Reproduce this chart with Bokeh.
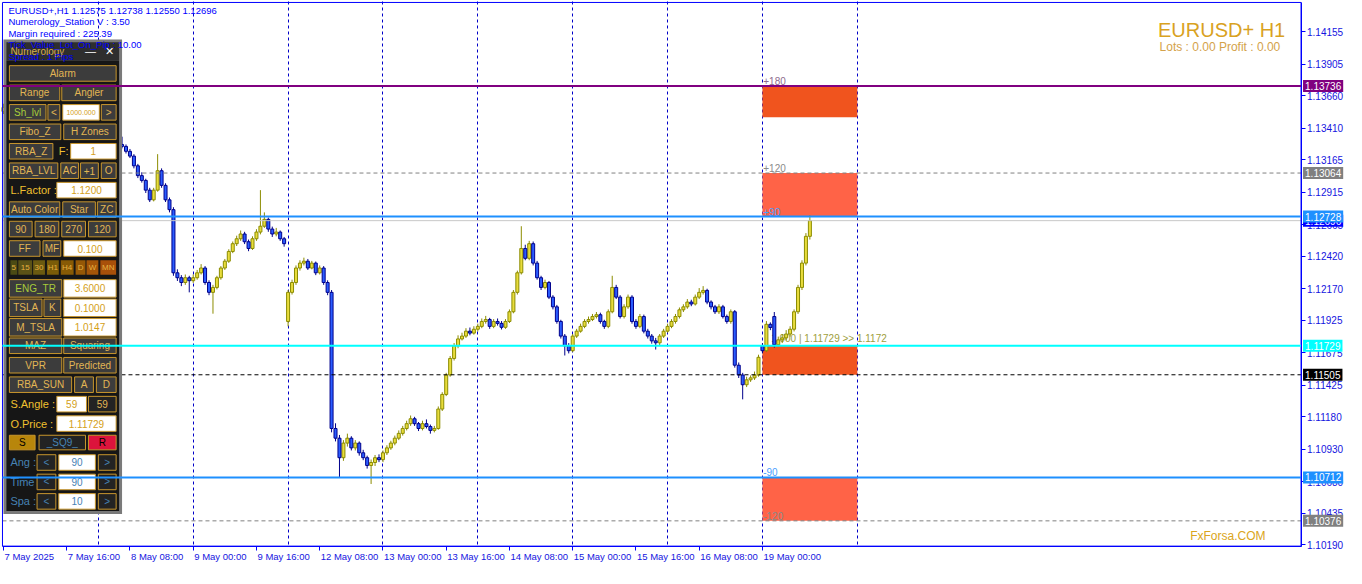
from bokeh.plotting import figure
from bokeh.models import Label, BoxAnnotation, FixedTicker, Range1d, PrintfTickFormatter, ColumnDataSource
from bokeh.embed import file_html
from bokeh.resources import INLINE

# ---------------- data ----------------
bar_open = [
 1.13540, 1.13571, 1.13556, 1.13586, 1.13563, 1.13533, 1.13548, 1.13525, 1.13556, 1.13578,
 1.13608, 1.13631, 1.13601, 1.13571, 1.13540, 1.13510, 1.13556, 1.13586, 1.13533, 1.13495,
 1.13383, 1.13270, 1.13330, 1.13285, 1.13307, 1.13270, 1.13292, 1.13255, 1.13277, 1.13300,
 1.13285, 1.13270, 1.13232, 1.13195, 1.13120, 1.13044, 1.13007, 1.12932, 1.12857, 1.12932,
 1.13082, 1.12969, 1.12857, 1.12781, 1.12293, 1.12255, 1.12218, 1.12255, 1.12232, 1.12255,
 1.12293, 1.12330, 1.12218, 1.12142, 1.12180, 1.12255, 1.12330, 1.12383, 1.12458, 1.12518,
 1.12556, 1.12593, 1.12533, 1.12481, 1.12556, 1.12608, 1.12653, 1.12706, 1.12631, 1.12593,
 1.12608, 1.12556, 1.11917, 1.12142, 1.12218, 1.12330, 1.12368, 1.12383, 1.12330, 1.12368,
 1.12293, 1.12330, 1.12218, 1.12142, 1.11090, 1.11015, 1.10864, 1.10977, 1.11015, 1.10940,
 1.10977, 1.10902, 1.10864, 1.10804, 1.10827, 1.10864, 1.10849, 1.10902, 1.10940, 1.10977,
 1.11015, 1.11052, 1.11090, 1.11127, 1.11165, 1.11127, 1.11090, 1.11127, 1.11105, 1.11075,
 1.11090, 1.11240, 1.11353, 1.11503, 1.11631, 1.11729, 1.11782, 1.11804, 1.11842, 1.11827,
 1.11857, 1.11879, 1.11917, 1.11932, 1.11879, 1.11917, 1.11902, 1.11872, 1.11917, 1.11992,
 1.12142, 1.12293, 1.12481, 1.12405, 1.12518, 1.12368, 1.12255, 1.12180, 1.12218, 1.12105,
 1.12030, 1.11917, 1.11804, 1.11729, 1.11691, 1.11804, 1.11842, 1.11879, 1.11917, 1.11932,
 1.11955, 1.11969, 1.11917, 1.11879, 1.11992, 1.12180, 1.12105, 1.11955, 1.12030, 1.12105,
 1.11917, 1.11879, 1.11955, 1.11842, 1.11804, 1.11767, 1.11752, 1.11804, 1.11842, 1.11879,
 1.11917, 1.11955, 1.12007, 1.12030, 1.12067, 1.12052, 1.12105, 1.12142, 1.12157, 1.12067,
 1.12030, 1.11992, 1.12030, 1.11955, 1.11917, 1.11992, 1.11579, 1.11503, 1.11428, 1.11466,
 1.11481, 1.11503, 1.11729, 1.11691, 1.11895, 1.11955, 1.11737, 1.11775, 1.11790, 1.11820,
 1.11857, 1.11992, 1.12180, 1.12368, 1.12575]

bar_high = [
 1.13600, 1.13590, 1.13610, 1.13600, 1.13575, 1.13565, 1.13560, 1.13570, 1.13600, 1.13630,
 1.13660, 1.13650, 1.13615, 1.13585, 1.13555, 1.13575, 1.13605, 1.13600, 1.13560, 1.13520,
 1.13420, 1.13360, 1.13345, 1.13330, 1.13320, 1.13310, 1.13305, 1.13295, 1.13320, 1.13335,
 1.13345, 1.13285, 1.13250, 1.13210, 1.13135, 1.13070, 1.13020, 1.12950, 1.12950, 1.13210,
 1.13100, 1.12985, 1.12875, 1.12800, 1.12320, 1.12275, 1.12280, 1.12270, 1.12280, 1.12315,
 1.12360, 1.12345, 1.12235, 1.12200, 1.12270, 1.12345, 1.12400, 1.12475, 1.12535, 1.12580,
 1.12620, 1.12610, 1.12550, 1.12575, 1.12630, 1.12932, 1.12760, 1.12720, 1.12650, 1.12640,
 1.12620, 1.12570, 1.12160, 1.12240, 1.12350, 1.12390, 1.12410, 1.12400, 1.12385, 1.12380,
 1.12350, 1.12345, 1.12235, 1.12160, 1.11130, 1.11040, 1.11000, 1.11050, 1.11030, 1.11000,
 1.10990, 1.10925, 1.10880, 1.10850, 1.10885, 1.10890, 1.10920, 1.10960, 1.10995, 1.11035,
 1.11075, 1.11110, 1.11150, 1.11190, 1.11180, 1.11140, 1.11150, 1.11160, 1.11120, 1.11110,
 1.11260, 1.11370, 1.11520, 1.11650, 1.11750, 1.11810, 1.11830, 1.11865, 1.11870, 1.11880,
 1.11900, 1.11940, 1.11960, 1.11945, 1.11935, 1.11940, 1.11920, 1.11935, 1.12010, 1.12160,
 1.12310, 1.12653, 1.12510, 1.12540, 1.12535, 1.12385, 1.12270, 1.12240, 1.12230, 1.12120,
 1.12045, 1.11930, 1.11820, 1.11750, 1.11820, 1.11860, 1.11900, 1.11935, 1.11955, 1.11975,
 1.11990, 1.11985, 1.11930, 1.12010, 1.12270, 1.12200, 1.12120, 1.12050, 1.12125, 1.12120,
 1.11935, 1.11975, 1.11970, 1.11860, 1.11820, 1.11790, 1.11820, 1.11860, 1.11900, 1.11935,
 1.11975, 1.12025, 1.12050, 1.12090, 1.12085, 1.12125, 1.12175, 1.12190, 1.12170, 1.12080,
 1.12045, 1.12050, 1.12045, 1.11970, 1.12010, 1.12005, 1.11600, 1.11520, 1.11490, 1.11500,
 1.11530, 1.11660, 1.11750, 1.11920, 1.11910, 1.11990, 1.11800, 1.11820, 1.11850, 1.11880,
 1.12010, 1.12200, 1.12390, 1.12600, 1.12738]

bar_low = [
 1.13520, 1.13540, 1.13545, 1.13550, 1.13515, 1.13520, 1.13510, 1.13515, 1.13545, 1.13565,
 1.13595, 1.13590, 1.13555, 1.13525, 1.13495, 1.13500, 1.13540, 1.13520, 1.13470, 1.13350,
 1.13230, 1.13250, 1.13260, 1.13270, 1.13255, 1.13260, 1.13240, 1.13245, 1.13265, 1.13270,
 1.13255, 1.13215, 1.13180, 1.13100, 1.13025, 1.12990, 1.12910, 1.12840, 1.12845, 1.12920,
 1.12950, 1.12840, 1.12760, 1.12270, 1.12230, 1.12190, 1.12200, 1.12142, 1.12215, 1.12240,
 1.12280, 1.12200, 1.12120, 1.11977, 1.12165, 1.12240, 1.12315, 1.12370, 1.12445, 1.12500,
 1.12540, 1.12515, 1.12460, 1.12470, 1.12540, 1.12590, 1.12640, 1.12610, 1.12570, 1.12575,
 1.12540, 1.12495, 1.11879, 1.12125, 1.12200, 1.12310, 1.12350, 1.12315, 1.12320, 1.12275,
 1.12280, 1.12200, 1.12120, 1.11060, 1.10990, 1.10714, 1.10840, 1.10950, 1.10920, 1.10920,
 1.10880, 1.10845, 1.10780, 1.10661, 1.10800, 1.10830, 1.10830, 1.10885, 1.10925, 1.10960,
 1.11000, 1.11035, 1.11075, 1.11110, 1.11110, 1.11070, 1.11075, 1.11090, 1.11050, 1.11060,
 1.11080, 1.11225, 1.11340, 1.11490, 1.11615, 1.11710, 1.11770, 1.11790, 1.11810, 1.11815,
 1.11840, 1.11865, 1.11900, 1.11860, 1.11865, 1.11885, 1.11855, 1.11860, 1.11905, 1.11980,
 1.12125, 1.12280, 1.12390, 1.12390, 1.12350, 1.12240, 1.12160, 1.12165, 1.12090, 1.12010,
 1.11900, 1.11785, 1.11654, 1.11670, 1.11680, 1.11790, 1.11830, 1.11865, 1.11900, 1.11920,
 1.11940, 1.11900, 1.11860, 1.11865, 1.11980, 1.12090, 1.11940, 1.11940, 1.12015, 1.11900,
 1.11860, 1.11865, 1.11825, 1.11785, 1.11745, 1.11700, 1.11735, 1.11790, 1.11830, 1.11865,
 1.11900, 1.11940, 1.11990, 1.12015, 1.12035, 1.12040, 1.12090, 1.12125, 1.12050, 1.12010,
 1.11975, 1.11975, 1.11940, 1.11900, 1.11900, 1.11560, 1.11480, 1.11315, 1.11410, 1.11450,
 1.11465, 1.11490, 1.11670, 1.11680, 1.11850, 1.11715, 1.11720, 1.11750, 1.11770, 1.11800,
 1.11840, 1.11975, 1.12160, 1.12350, 1.12550]

bar_close = [
 1.13571, 1.13556, 1.13586, 1.13563, 1.13533, 1.13548, 1.13525, 1.13556, 1.13578, 1.13608,
 1.13631, 1.13601, 1.13571, 1.13540, 1.13510, 1.13556, 1.13586, 1.13533, 1.13495, 1.13383,
 1.13270, 1.13330, 1.13285, 1.13307, 1.13270, 1.13292, 1.13255, 1.13277, 1.13300, 1.13285,
 1.13270, 1.13232, 1.13195, 1.13120, 1.13044, 1.13007, 1.12932, 1.12857, 1.12932, 1.13082,
 1.12969, 1.12857, 1.12781, 1.12293, 1.12255, 1.12218, 1.12255, 1.12232, 1.12255, 1.12293,
 1.12330, 1.12218, 1.12142, 1.12180, 1.12255, 1.12330, 1.12383, 1.12458, 1.12518, 1.12556,
 1.12593, 1.12533, 1.12481, 1.12556, 1.12608, 1.12653, 1.12706, 1.12631, 1.12593, 1.12608,
 1.12556, 1.12518, 1.12142, 1.12218, 1.12330, 1.12368, 1.12383, 1.12330, 1.12368, 1.12293,
 1.12330, 1.12218, 1.12142, 1.11090, 1.11015, 1.10864, 1.10977, 1.11015, 1.10940, 1.10977,
 1.10902, 1.10864, 1.10804, 1.10827, 1.10864, 1.10849, 1.10902, 1.10940, 1.10977, 1.11015,
 1.11052, 1.11090, 1.11127, 1.11165, 1.11127, 1.11090, 1.11127, 1.11105, 1.11075, 1.11090,
 1.11240, 1.11353, 1.11503, 1.11631, 1.11729, 1.11782, 1.11804, 1.11842, 1.11827, 1.11857,
 1.11879, 1.11917, 1.11932, 1.11879, 1.11917, 1.11902, 1.11872, 1.11917, 1.11992, 1.12142,
 1.12293, 1.12481, 1.12405, 1.12518, 1.12368, 1.12255, 1.12180, 1.12218, 1.12105, 1.12030,
 1.11917, 1.11804, 1.11729, 1.11691, 1.11804, 1.11842, 1.11879, 1.11917, 1.11932, 1.11955,
 1.11969, 1.11917, 1.11879, 1.11992, 1.12180, 1.12105, 1.11955, 1.12030, 1.12105, 1.11917,
 1.11879, 1.11955, 1.11842, 1.11804, 1.11767, 1.11752, 1.11804, 1.11842, 1.11879, 1.11917,
 1.11955, 1.12007, 1.12030, 1.12067, 1.12052, 1.12105, 1.12142, 1.12157, 1.12067, 1.12030,
 1.11992, 1.12030, 1.11955, 1.11917, 1.11992, 1.11579, 1.11503, 1.11428, 1.11466, 1.11481,
 1.11503, 1.11640, 1.11691, 1.11895, 1.11870, 1.11737, 1.11775, 1.11790, 1.11820, 1.11857,
 1.11992, 1.12180, 1.12368, 1.12575, 1.12696]

price_ticks = [1.14155, 1.13905, 1.13660, 1.13410, 1.13165, 1.12915, 1.12665, 1.12420, 1.12170,
               1.11925, 1.11675, 1.11425, 1.11180, 1.10930, 1.10680, 1.10435, 1.10190]

date_idx = [0, 16, 32, 48, 64, 80, 96, 112, 128, 144, 160, 176, 192]
date_labels = ["7 May 2025", "7 May 16:00", "8 May 08:00", "9 May 00:00", "9 May 16:00",
               "12 May 08:00", "13 May 00:00", "13 May 16:00", "14 May 08:00", "15 May 00:00",
               "15 May 16:00", "16 May 08:00", "19 May 00:00"]
grid_idx = [24, 48, 72, 96, 120, 144, 168, 192, 216]

# horizontal levels
solid_prices = [1.13736, 1.12728, 1.11729, 1.10712]
solid_colors = ["#800080", "#1E90FF", "#00FFFF", "#1E90FF"]
dash_prices = [1.13064, 1.11505, 1.10376]
dash_colors = ["#808080", "#000000", "#808080"]
bid_price = [1.12696]

tag_prices = [1.12696, 1.13736, 1.13064, 1.12728, 1.11729, 1.11505, 1.10712, 1.10376]
tag_colors = ["#0000FF", "#800080", "#808080", "#1E90FF", "#00FFFF", "#000000", "#1E90FF", "#808080"]

zone_left = [192, 192, 192, 192]
zone_right = [216, 216, 216, 216]
zone_top = [1.13736, 1.13064, 1.11729, 1.10712]
zone_bottom = [1.13495, 1.12728, 1.11505, 1.10376]
zone_colors = ["#F0541E", "#FF6347", "#F0541E", "#FF6347"]

zone_tag_text = ["+180", "+120", "+90", "-90", "-120"]
zone_tag_price = [1.13736, 1.13064, 1.12728, 1.10712, 1.10376]
zone_tag_color = ["#8E6A8E", "#8A8A8A", "#4AA0FF", "#4AA0FF", "#8A8A8A"]

# ---------------- figure ----------------
W, H = 1346, 568
SX, SY = W / 1362.0, H / 584.0
X0, X1 = -0.25, 328.25            # plot area (bars)
Y0, Y1 = 1.101807, 1.143824       # plot area (price)

p = figure(frame_width=W, frame_height=H, x_range=Range1d(-0.75, 339.75),
           y_range=Range1d(1.100078, 1.143975), output_backend="svg", toolbar_location=None,
           y_axis_location="right", min_border=0)
p.background_fill_color = "white"
p.border_fill_color = "white"
p.outline_line_color = None

ya = p.yaxis[0]
ya.fixed_location = X1
ya.bounds = (Y0, Y1)
ya.ticker = FixedTicker(ticks=price_ticks)
ya.formatter = PrintfTickFormatter(format="%.5f")
ya.axis_line_color = "#0000FF"
ya.major_tick_line_color = "#0000FF"
ya.major_tick_out = 4
ya.major_tick_in = 0
ya.minor_tick_line_color = None
ya.major_label_text_color = "#1515E0"
ya.major_label_text_font = "Liberation Sans"
ya.major_label_text_font_size = "10px"
ya.major_label_standoff = 2

xa = p.xaxis[0]
xa.fixed_location = Y0
xa.bounds = (X0, X1)
xa.ticker = FixedTicker(ticks=date_idx)
xa.axis_line_color = "#0000FF"
xa.major_tick_line_color = "#0000FF"
xa.major_tick_out = 4
xa.major_tick_in = 0
xa.minor_tick_line_color = None
xa.major_label_text_alpha = 0
xa.major_label_text_font_size = "9px"

p.ygrid.visible = False
p.xgrid.ticker = FixedTicker(ticks=grid_idx)
p.xgrid.grid_line_color = "#0000C8"
p.xgrid.grid_line_dash = "3 3"
p.xgrid.grid_line_width = 1

# white strip below the plot area (hides grid below the time axis)
p.add_layout(BoxAnnotation(top=Y0, fill_color="white", fill_alpha=1.0, line_color=None, level="underlay"))

# zones
p.quad(left=zone_left, right=zone_right, top=zone_top, bottom=zone_bottom,
       fill_color=zone_colors, line_color=None)

# candles
idx = list(range(len(bar_close)))
bull = [i for i in idx if bar_close[i] >= bar_open[i]]
bear = [i for i in idx if bar_close[i] < bar_open[i]]

def src(sel):
    return ColumnDataSource(dict(
        x=sel,
        hi=[bar_high[i] for i in sel], lo=[bar_low[i] for i in sel],
        top=[max(bar_open[i], bar_close[i]) for i in sel],
        bot=[min(bar_open[i], bar_close[i]) for i in sel]))

sb, ss = src(bull), src(bear)
p.segment(x0="x", x1="x", y0="lo", y1="hi", source=sb, line_color="#8C8C00", line_width=1)
p.segment(x0="x", x1="x", y0="lo", y1="hi", source=ss, line_color="#00008B", line_width=1)
p.vbar(x="x", width=0.76, top="top", bottom="bot", source=sb, fill_color="#E8DC3C", line_color="#8C8C00", line_width=1)
p.vbar(x="x", width=0.76, top="top", bottom="bot", source=ss, fill_color="#2A5CFF", line_color="#00008B", line_width=1)

# dashed lines and bid line (under the panel)
n = len(dash_prices)
p.segment(x0=[X0] * n, x1=[X1] * n, y0=dash_prices, y1=dash_prices, line_color=dash_colors,
          line_width=1, line_dash="4 3")
p.segment(x0=[X0], x1=[X1], y0=bid_price, y1=bid_price, line_color="#C8C8C8", line_width=1)

# solid levels (drawn over the panel)
m = len(solid_prices)
p.segment(x0=[X0] * m, x1=[X1] * m, y0=solid_prices, y1=solid_prices, line_color=solid_colors,
          line_width=2, level="overlay")

# plot-area border
p.add_layout(BoxAnnotation(left=X0, right=X1, bottom=Y0, top=Y1, fill_alpha=0, fill_color=None,
                           line_color="#0000FF", line_alpha=1.0, line_width=1, level="annotation"))

# zone tags
for t, pr, c in zip(zone_tag_text, zone_tag_price, zone_tag_color):
    p.add_layout(Label(x=192.2, y=pr, text=t, text_color=c, text_font="Liberation Sans",
                       text_font_size="10px", text_baseline="bottom", text_align="left", y_offset=1))

p.add_layout(Label(x=194.2, y=1.11782, text="1.000 | 1.11729 >> 1.1172", text_color="#9E9E3C",
                   text_font="Liberation Sans", text_font_size="10px", text_baseline="middle",
                   text_align="left", level="underlay"))

# ---------------- panel (screen overlay) ----------------
def rx(x):
    return x * SX

def ry(y):
    return H - y * SY

def box(x0, y0, x1, y1, fill, line=None, level="annotation"):
    p.add_layout(BoxAnnotation(left=rx(x0), right=rx(x1), top=ry(y0), bottom=ry(y1),
                               left_units="screen", right_units="screen",
                               top_units="screen", bottom_units="screen",
                               fill_color=fill, fill_alpha=1.0,
                               line_color=line, line_alpha=1.0, line_width=1, level=level))

def txt(x, y, s, color, size="10px", align="center", baseline="middle", level="annotation"):
    p.add_layout(Label(x=rx(x), y=ry(y), x_units="screen", y_units="screen", text=s,
                       text_color=color, text_font_size=size, text_align=align,
                       text_baseline=baseline, text_font="Liberation Sans", level=level))

GOLD_LINE = "#C8962D"
BTN_TXT = "#E2B654"
STYLES = {
    "btn": ("#3C3C3C", GOLD_LINE, BTN_TXT),
    "btn_g": ("#3C3C3C", GOLD_LINE, "#A8CC3A"),
    "inp": ("#FFFFFF", GOLD_LINE, "#D4A017"),
    "inp_s": ("#FFFFFF", GOLD_LINE, "#D4A017"),
    "inp_b": ("#FFFFFF", GOLD_LINE, "#4682B4"),
    "dark": ("#232323", GOLD_LINE, "#4682B4"),
    "dark_g": ("#232323", GOLD_LINE, BTN_TXT),
    "S": ("#B8860B", GOLD_LINE, "#000000"),
    "R": ("#DC143C", GOLD_LINE, "#000000"),
}

box(3, 40, 123, 528, "#7A7A7A")
box(6, 43, 120, 62, "#2E2E2E")
box(6, 62, 120, 525, "#161616")
txt(10, 52, "Numerology", "#D8B050", size="10px", align="left")
txt(91, 52, "\u2014", "#FFFFFF", size="11px")
txt(110, 52, "\u2715", "#FFFFFF", size="11px")

buttons = [
    (9, 67, 117, 83, "Alarm", "btn"),
    (9, 87, 60, 103, "Range", "btn"), (62, 87, 117, 103, "Angler", "btn"),
    (9, 107, 46, 123, "Sh_lvl", "btn_g"), (48, 107, 60, 123, "<", "btn"),
    (63, 107, 100, 123, "1000.000", "inp_s"), (102, 107, 117, 123, ">", "btn"),
    (9, 127, 61, 143, "Fibo_Z", "btn"), (64, 127, 117, 143, "H Zones", "btn"),
    (9, 147, 53, 163, "RBA_Z", "btn"), (58, 147, 70, 163, "F:", "lbl"), (71, 147, 117, 163, "1", "inp"),
    (9, 167, 58, 183, "RBA_LVL", "btn"), (61, 167, 79, 183, "AC", "btn"),
    (81, 167, 99, 183, "+1", "btn"), (102, 167, 117, 183, "O", "btn"),
    (9, 187, 55, 203, "L.Factor :", "lbl"), (57, 187, 117, 203, "1.1200", "inp"),
    (9, 207, 60, 223, "Auto Color", "btn"), (63, 207, 96, 223, "Star", "btn"), (98, 207, 117, 223, "ZC", "btn"),
    (9, 227, 32, 243, "90", "btn"), (35, 227, 59, 243, "180", "btn"),
    (62, 227, 86, 243, "270", "btn"), (89, 227, 117, 243, "120", "btn"),
    (9, 247, 40, 263, "FF", "btn"), (43, 247, 61, 263, "MF", "btn"), (64, 247, 117, 263, "0.100", "inp"),
    (9, 287, 62, 305, "ENG_TR", "btn_g"), (64, 287, 117, 305, "3.6000", "inp"),
    (9, 307, 42, 325, "TSLA", "btn"), (44, 307, 61, 325, "K", "btn"), (64, 307, 117, 325, "0.1000", "inp"),
    (9, 327, 62, 345, "M_TSLA", "btn"), (64, 327, 117, 345, "1.0147", "inp"),
    (9, 347, 62, 363, "MAZ", "btn"), (64, 347, 117, 363, "Squaring", "btn"),
    (9, 367, 62, 383, "VPR", "btn"), (64, 367, 117, 383, "Predicted", "btn"),
    (9, 387, 72, 403, "RBA_SUN", "btn"), (75, 387, 94, 403, "A", "btn"), (97, 387, 117, 403, "D", "btn"),
    (9, 407, 55, 423, "S.Angle :", "lbl"), (57, 407, 87, 423, "59", "inp"), (89, 407, 117, 423, "59", "dark_g"),
    (9, 427, 55, 443, "O.Price :", "lbl"), (57, 427, 117, 443, "1.11729", "inp"),
    (9, 447, 35, 462, "S", "S"), (39, 447, 86, 462, "_SQ9_", "dark"), (89, 447, 117, 462, "R", "R"),
    (9, 467, 35, 483, "Ang :", "lbl_b"), (37, 467, 56, 483, "<", "dark"),
    (59, 467, 96, 483, "90", "inp_b"), (99, 467, 117, 483, ">", "dark"),
    (9, 487, 35, 503, "Time :", "lbl_b"), (37, 487, 56, 503, "<", "dark"),
    (59, 487, 96, 503, "90", "inp_b"), (99, 487, 117, 503, ">", "dark"),
    (9, 507, 35, 523, "Spa :", "lbl_b"), (37, 507, 56, 523, "<", "dark"),
    (59, 507, 96, 523, "10", "inp_b"), (99, 507, 117, 523, ">", "dark"),
]
for x0, y0, x1, y1, s, st in buttons:
    cy = (y0 + y1) / 2.0
    if st == "lbl":
        txt(x0 + 1, cy, s, "#F0C030", size="11px", align="left")
    elif st == "lbl_b":
        txt(x0 + 1, cy, s, "#4682B4", size="11px", align="left")
    else:
        fill, line, tc = STYLES[st]
        box(x0, y0, x1, y1, fill, line)
        txt((x0 + x1) / 2.0, cy, s, tc, size="7px" if st == "inp_s" else "10px")

tf_boxes = [(10, 17, "5", "#4B4B14"), (18, 32, "15", "#5B5216"), (33, 45, "30", "#6B5A10"),
            (47, 59, "H1", "#7A5C08"), (61, 74, "H4", "#875A05"), (76, 86, "D", "#955806"),
            (87, 99, "W", "#A35508"), (101, 117, "MN", "#A8500A")]
for x0, x1, s, c in tf_boxes:
    box(x0, 267, x1, 282, c, None)
    txt((x0 + x1) / 2.0, 274.5, s, "#E6B040", size="8px")

# info texts (over the panel)
info = ["EURUSD+,H1  1.12575 1.12738 1.12550 1.12696", "Numerology_Station V : 3.50",
        "Margin required : 225.39", "Tick_Value_Lot_On_Pip : 10.00", "Spread : 1  Pips"]
for k, s in enumerate(info):
    txt(8, 10 + 11.8 * k, s, "#0000FF", size="9.5px", align="left", level="overlay")

txt(1300, 30, "EURUSD+ H1", "#D9A21F", size="20px", align="right", level="overlay")
txt(1295, 48, "Lots : 0.00 Profit : 0.00", "#D4A24A", size="12px", align="right", level="overlay")
txt(1280, 551, "FxForsa.COM", "#DAA520", size="12px", align="right", level="overlay")

# price tags on the right axis
for pr, c in zip(tag_prices, tag_colors):
    p.add_layout(Label(x=X1, y=pr, text=f"{pr:.5f}", x_offset=2,
                       text_color="#FFFFFF", background_fill_color=c, background_fill_alpha=1.0,
                       text_font="Liberation Sans", text_font_size="10px", text_baseline="middle",
                       text_align="left", padding=2, level="overlay"))

# date labels on the time axis
for i, s in zip(date_idx, date_labels):
    p.add_layout(Label(x=i, y=ry(572), y_units="screen", text=s, x_offset=1,
                       text_color="#1515E0", text_font="Liberation Sans", text_font_size="9.5px",
                       text_baseline="middle", text_align="left", level="overlay"))

open("out.html", "w").write(file_html(p, INLINE))
